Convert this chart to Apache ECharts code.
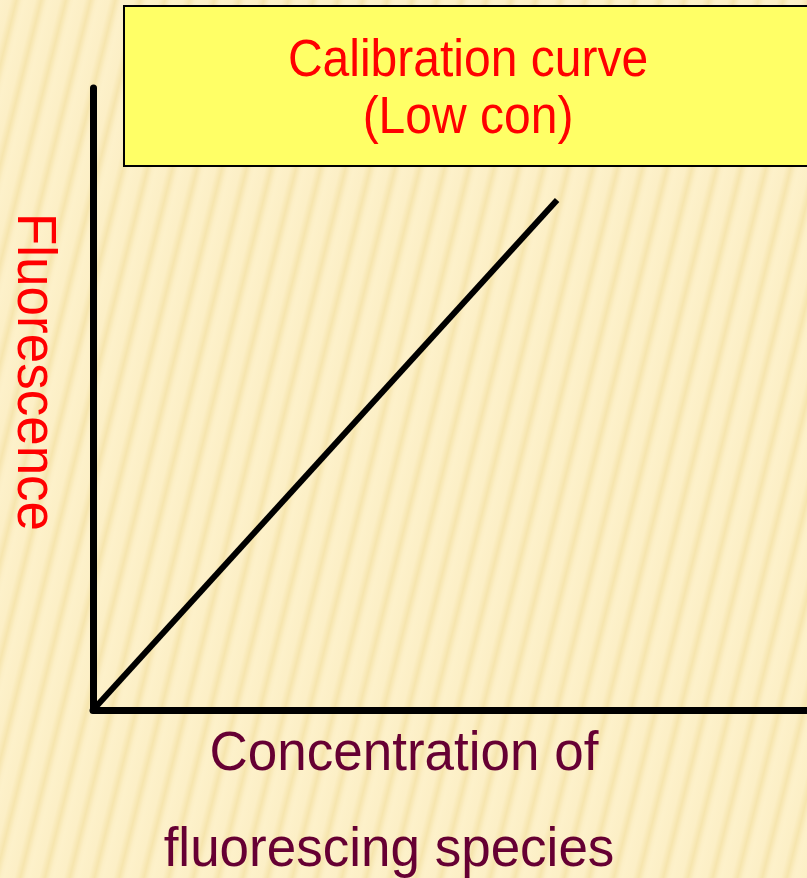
<!DOCTYPE html>
<html>
<head>
<meta charset="utf-8">
<script src="https://cdn.jsdelivr.net/npm/echarts@6/dist/echarts.min.js"></script>
<style>
html,body{margin:0;padding:0;width:807px;height:878px;overflow:hidden;}
body{background:#fcefc6 repeating-linear-gradient(104deg,#fdf1ca 0px,#fcefc6 10px,#f6e5ae 16px,#fcefc6 21px,#fdf1ca 24px);}
#chart{width:807px;height:878px;}
</style>
</head>
<body>
<div id="chart"></div>
<script>
// Data
var concentration = [0, 6.5];
var fluorescence = [0, 8.2];
var titleLines = ['Calibration curve', '(Low con)'];
var xAxisLabelLines = ['Concentration of', 'fluorescing species'];
var yAxisLabel = 'Fluorescence';

var points = concentration.map(function (c, i) { return [c, fluorescence[i]]; });
var FONT = '"Liberation Sans", Arial, sans-serif';

function label(text, x, y, size, color, rot, sx, sy) {
  return {
    type: 'text', z: 11, x: x, y: y, rotation: rot || 0, scaleX: sx || 1, scaleY: sy || 1,
    style: {text: text, x: 0, y: 0, textAlign: 'center', textVerticalAlign: 'middle',
      font: size + 'px ' + FONT, fill: color}
  };
}

var chart = echarts.init(document.getElementById('chart'), null, {renderer: 'canvas'});
chart.setOption({
  backgroundColor: 'transparent',
  animation: false,
  grid: {left: 93, right: -10, top: 88, bottom: 168},
  xAxis: {
    type: 'value', min: 0, max: 10,
    axisLine: {show: true, lineStyle: {color: '#000', width: 7}},
    axisTick: {show: false}, axisLabel: {show: false}, splitLine: {show: false}
  },
  yAxis: {
    type: 'value', min: 0, max: 10,
    axisLine: {show: true, lineStyle: {color: '#000', width: 7}},
    axisTick: {show: false}, axisLabel: {show: false}, splitLine: {show: false}
  },
  series: [{
    type: 'line',
    data: points,
    showSymbol: false,
    symbol: 'none',
    lineStyle: {color: '#000', width: 6},
    z: 5
  }],
  graphic: [
    {
      type: 'rect',
      shape: {x: 124, y: 6, width: 720, height: 160},
      style: {fill: '#ffff66', stroke: '#000', lineWidth: 2},
      z: 10
    },
    label(titleLines[0], 468, 62, 48, '#ff0000', 0, 1, 1.07),
    label(titleLines[1], 468, 119, 48, '#ff0000', 0, 1, 1.07),
    label(yAxisLabel, 33, 372, 53, '#ff0000', -Math.PI / 2, 1, 1.05),
    label(xAxisLabelLines[0], 404, 755, 53, '#660033', 0, 1, 1.06),
    label(xAxisLabelLines[1], 389, 851, 53, '#660033', 0, 1, 1.06)
  ]
});
</script>
</body>
</html>
